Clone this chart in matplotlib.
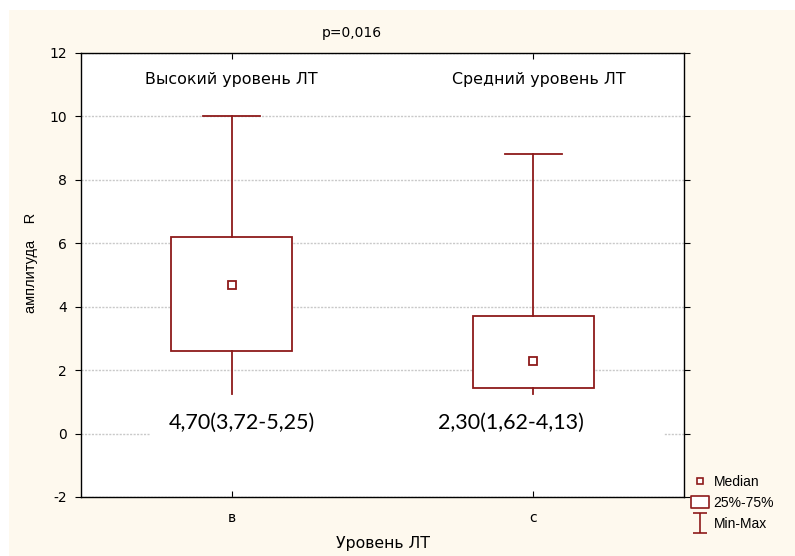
import matplotlib
matplotlib.use('Agg')
import matplotlib.pyplot as plt
from matplotlib.patches import Rectangle
from matplotlib.lines import Line2D
from matplotlib.path import Path

plt.rcParams['axes.unicode_minus'] = False

# data
groups = ['в', 'с']
group_titles = ['Высокий уровень ЛТ', 'Средний уровень ЛТ']
medians = [4.70, 2.30]
q25 = [2.60, 1.45]
q75 = [6.20, 3.70]
mins = [1.25, 1.25]
maxs = [10.0, 8.8]
notes = ['4,70(3,72-5,25)', '2,30(1,62-4,13)']
p_text = 'p=0,016'

red = '#8E1A1A'
cream = '#FEF9EE'

fig = plt.figure(figsize=(7.95, 5.56), dpi=100, facecolor='white')
fig.patches.append(Rectangle((9 / 795, 0), 1, 546 / 556, transform=fig.transFigure,
                             facecolor=cream, edgecolor='none', zorder=-10))
ax = fig.add_axes([81 / 795, 1 - 497 / 556, 603 / 795, 444 / 556])
ax.set_facecolor('white')

pos = [1, 2]
box_w = 0.4
cap_w = 0.19
for i, x in enumerate(pos):
    ax.add_patch(Rectangle((x - box_w / 2, q25[i]), box_w, q75[i] - q25[i],
                           facecolor='white', edgecolor=red, lw=1.3, zorder=3))
    ax.plot([x, x], [q75[i], maxs[i]], color=red, lw=1.3, zorder=3)
    ax.plot([x - cap_w / 2, x + cap_w / 2], [maxs[i], maxs[i]], color=red, lw=1.3, zorder=3)
    ax.plot([x, x], [mins[i], q25[i]], color=red, lw=1.3, zorder=3)
    ax.plot([x], [medians[i]], marker='s', ms=6, mfc='white', mec=red, mew=1.3,
            ls='none', zorder=4)
    ax.text(x + 0.02 * i, 11.15, group_titles[i], ha='center', va='center',
            fontsize=11.4, family='DejaVu Sans')

# white boxes behind the median / IQR notes hide the zero gridline
gaps = [(0.729, 1.505), (1.505, 2.434)]
note_x = [1.035, 1.925]
for i in range(2):
    ax.add_patch(Rectangle((gaps[i][0], -0.4), gaps[i][1] - gaps[i][0], 1.4,
                           facecolor='white', edgecolor='none', zorder=2))
    ax.text(note_x[i], 0.35, notes[i], ha='center', va='center', fontsize=15.5,
            family='Lato', zorder=5)

ax.set_xlim(0.5, 2.5)
ax.set_ylim(-2, 12)
ax.set_yticks(range(-2, 13, 2))
ax.set_xticks(pos)
ax.set_xticklabels(groups)
ax.yaxis.grid(True, color='#c9c9c9', ls=(0, (1.5, 1)), lw=1, zorder=1)
ax.set_axisbelow(True)
ax.tick_params(axis='y', direction='out', length=4, left=True, right=True,
               labelsize=10, pad=6)
ax.tick_params(axis='x', direction='in', length=4, top=True, bottom=True,
               labelsize=10, pad=10)
for lab in ax.get_xticklabels() + ax.get_yticklabels():
    lab.set_family('DejaVu Sans')
for s in ax.spines.values():
    s.set_linewidth(1)

ax.set_xlabel('Уровень ЛТ', fontsize=11.3, family='DejaVu Sans', labelpad=8)
fig.text(31 / 795, 1 - 263 / 556, 'амплитуда    R', rotation=90, ha='center',
         va='center', fontsize=10.5, family='Liberation Sans')
fig.text(352 / 795, 1 - 33 / 556, p_text, ha='center', va='center', fontsize=10,
         family='DejaVu Sans')

whisker = Path([(-0.35, 0.5), (0.35, 0.5), (0, 0.5), (0, -0.5), (-0.35, -0.5), (0.35, -0.5)],
               [Path.MOVETO, Path.LINETO, Path.MOVETO, Path.LINETO, Path.MOVETO, Path.LINETO])
iqr_box = Path([(-0.5, -0.36), (0.5, -0.36), (0.5, 0.36), (-0.5, 0.36), (-0.5, -0.36)],
               [Path.MOVETO, Path.LINETO, Path.LINETO, Path.LINETO, Path.CLOSEPOLY])
handles = [
    Line2D([], [], ls='none', marker='s', ms=4.5, mfc='white', mec=red, mew=1.2),
    Line2D([], [], ls='none', marker=iqr_box, ms=12.5, mfc='white', mec=red, mew=1.2),
    Line2D([], [], ls='none', marker=whisker, ms=14, mfc='none', mec=red, mew=1.2),
]
leg = fig.legend(handles, ['Median', '25%-75%', 'Min-Max'], loc='upper left',
                 bbox_to_anchor=(690 / 795, 1 - 472 / 556), frameon=False,
                 prop={'family': 'Liberation Sans', 'size': 10},
                 handlelength=1.0, handletextpad=0.5, labelspacing=0.5,
                 borderpad=0.2, borderaxespad=0)

fig.savefig('out.png', dpi=100, facecolor=fig.get_facecolor())
